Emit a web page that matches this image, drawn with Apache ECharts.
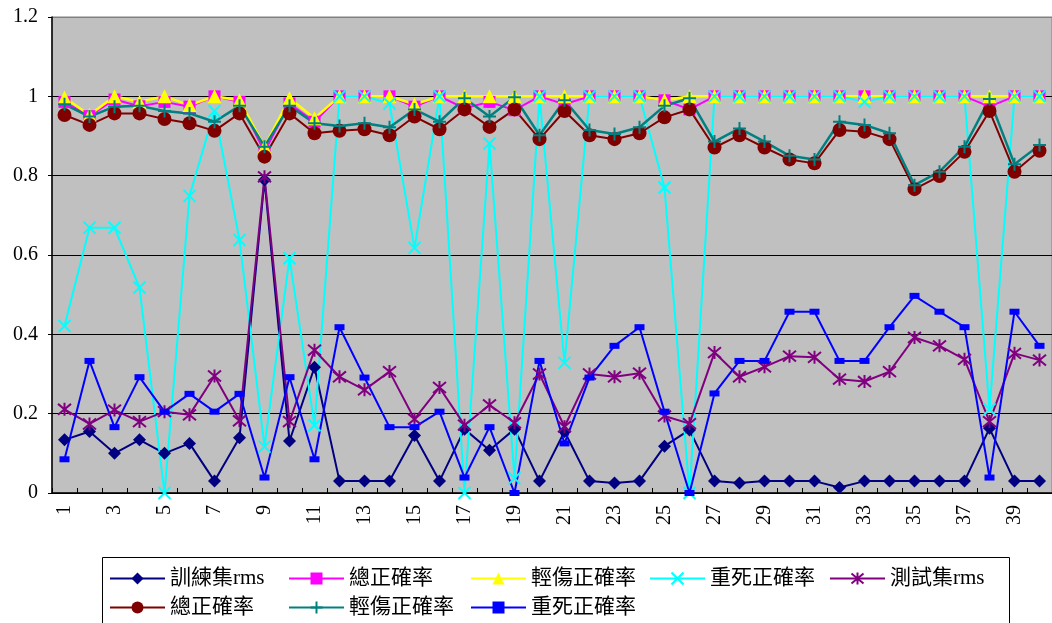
<!DOCTYPE html>
<html>
<head>
<meta charset="utf-8">
<script src="https://cdn.jsdelivr.net/npm/echarts@6/dist/echarts.min.js"></script>
<style>
html,body{margin:0;padding:0;background:#fff;}
#chart{width:1052px;height:623px;}
</style>
</head>
<body>
<div id="chart"></div>
<script>
const categories = Array.from({length: 40}, (_, i) => String(i + 1));
const yTicks = [0, 0.2, 0.4, 0.6, 0.8, 1, 1.2];

const trainRms = [0.134,0.155,0.100,0.134,0.100,0.125,0.030,0.139,0.789,0.131,0.317,0.030,0.030,0.030,0.145,0.030,0.161,0.108,0.161,0.030,0.155,0.030,0.025,0.030,0.118,0.159,0.030,0.025,0.030,0.030,0.030,0.014,0.030,0.030,0.030,0.030,0.030,0.163,0.030,0.030];
const trainTotal = [0.986,0.950,0.992,0.975,0.986,0.974,1.000,0.986,0.860,0.982,0.936,1.000,1.000,1.000,0.974,1.000,0.970,0.986,0.965,1.000,0.980,1.000,1.000,1.000,0.990,0.967,1.000,1.000,1.000,1.000,1.000,1.000,1.000,1.000,1.000,1.000,1.000,0.974,1.000,1.000];
const trainLight = [0.997,0.953,1.000,0.986,1.000,0.978,1.000,0.990,0.873,0.995,0.945,1.000,1.000,1.000,0.980,1.000,1.000,1.000,1.000,1.000,1.000,1.000,1.000,1.000,0.990,1.000,1.000,1.000,1.000,1.000,1.000,1.000,1.000,1.000,1.000,1.000,1.000,1.000,1.000,1.000];
const trainSevere = [0.421,0.669,0.669,0.518,0.000,0.749,0.963,0.638,0.117,0.592,0.171,1.000,1.000,0.982,0.618,1.000,0.000,0.881,0.037,1.000,0.328,1.000,1.000,1.000,0.770,0.000,1.000,1.000,1.000,1.000,1.000,1.000,0.986,1.000,1.000,1.000,1.000,0.211,1.000,1.000];
const testRms = [0.211,0.174,0.209,0.180,0.205,0.197,0.295,0.182,0.797,0.180,0.360,0.293,0.260,0.306,0.186,0.266,0.171,0.222,0.177,0.300,0.167,0.300,0.293,0.302,0.194,0.175,0.354,0.293,0.318,0.345,0.342,0.287,0.281,0.306,0.392,0.371,0.337,0.180,0.352,0.335];
const testTotal = [0.953,0.928,0.957,0.957,0.943,0.932,0.913,0.957,0.848,0.957,0.907,0.913,0.917,0.902,0.949,0.917,0.967,0.923,0.967,0.892,0.963,0.902,0.892,0.907,0.947,0.967,0.871,0.902,0.871,0.841,0.831,0.915,0.911,0.892,0.766,0.799,0.860,0.963,0.810,0.863];
const testLight = [0.980,0.949,0.974,0.976,0.963,0.957,0.936,0.976,0.873,0.976,0.932,0.925,0.932,0.922,0.967,0.936,0.995,0.949,0.998,0.902,0.990,0.915,0.905,0.922,0.976,0.995,0.886,0.919,0.886,0.850,0.841,0.936,0.928,0.907,0.776,0.810,0.873,0.993,0.829,0.877];
const testSevere = [0.085,0.333,0.166,0.292,0.205,0.250,0.205,0.250,0.039,0.292,0.085,0.418,0.291,0.166,0.166,0.205,0.039,0.166,0.000,0.333,0.125,0.291,0.371,0.418,0.205,0.000,0.251,0.333,0.333,0.457,0.457,0.333,0.333,0.418,0.497,0.457,0.418,0.039,0.457,0.371];

const names = ['訓練集rms','總正確率','輕傷正確率','重死正確率','測試集rms','總正確率\u200B','輕傷正確率\u200B','重死正確率\u200B'];

const FONT = '"Liberation Serif", "Noto Sans CJK TC", serif';
const X_PATH = 'path://M0,0L10,10M10,0L0,10';
const STAR_PATH = 'path://M0,1L10,11M10,1L0,11M5,0L5,12';
const PLUS_PATH = 'path://M5,0L5,10M0,5L10,5';

function mk(name, data, color, symbol, size, stroke, lw) {
  return {
    name: name, type: 'line', data: data,
    symbol: symbol, symbolSize: size,
    showAllSymbol: true,
    lineStyle: {color: color, width: lw || 2},
    itemStyle: stroke ? {color: color, borderColor: color, borderWidth: 2} : {color: color, borderWidth: 0},
    emphasis: {disabled: true},
    animation: false,
    z: 2
  };
}

const series = [
  mk(names[0], trainRms, '#000080', 'diamond', 13, false, 2),
  mk(names[1], trainTotal, '#FF00FF', 'rect', 12, false, 2),
  mk(names[2], trainLight, '#FFFF00', 'triangle', 14, false, 2.5),
  mk(names[3], trainSevere, '#00FFFF', X_PATH, 12, true, 2),
  mk(names[4], testRms, '#800080', STAR_PATH, 13, true, 2),
  mk(names[5], testTotal, '#800000', 'circle', 14, false, 2),
  mk(names[6], testLight, '#008080', PLUS_PATH, 13, true, 2.5),
  mk(names[7], testSevere, '#0000FF', 'rect', [10, 6], false, 2)
];

const legendPos = [
  [109, 568], [288, 568], [470, 568], [649, 568], [829, 568],
  [109, 597], [288, 597], [470, 597]
];
const legends = names.map((n, i) => ({
  data: [n],
  left: legendPos[i][0], top: legendPos[i][1],
  padding: 0,
  itemWidth: 55, itemHeight: 15,
  selectedMode: false,
  formatter: s => s.replace('\u200B', ''),
  textStyle: {fontFamily: FONT, fontSize: 21, color: '#000'}
}));

const splitColors = yTicks.map((v, i) => i === yTicks.length - 1 ? '#808080' : '#000000');

const option = {
  backgroundColor: '#ffffff',
  animation: false,
  legend: legends,
  graphic: [{
    type: 'rect', left: 100, top: 555,
    shape: {width: 907, height: 80},
    style: {fill: 'none', stroke: '#000', lineWidth: 1},
    silent: true
  }],
  grid: {
    left: 52, top: 17, width: 1004, height: 476,
    show: true, backgroundColor: '#C0C0C0', borderColor: '#808080', borderWidth: 1
  },
  xAxis: {
    type: 'category', data: categories, boundaryGap: true,
    axisLine: {lineStyle: {color: '#000', width: 1.5}},
    axisTick: {show: true, inside: true, length: 5, interval: 0, lineStyle: {color: '#000'}},
    axisLabel: {interval: 1, rotate: 90, margin: 12, fontFamily: FONT, fontSize: 20, color: '#000'},
    splitLine: {show: false}
  },
  yAxis: {
    type: 'value', min: 0, max: 1.2, interval: 0.2,
    axisLine: {show: true, lineStyle: {color: '#000', width: 1.5}},
    axisTick: {show: true, length: 4, lineStyle: {color: '#000'}},
    axisLabel: {margin: 14, fontFamily: FONT, fontSize: 20, color: '#000',
      formatter: v => String(Math.round(v * 10) / 10)},
    splitLine: {show: true, lineStyle: {color: splitColors, width: 1}}
  },
  series: series
};

const chart = echarts.init(document.getElementById('chart'), null, {renderer: 'canvas'});
chart.setOption(option);
</script>
</body>
</html>
